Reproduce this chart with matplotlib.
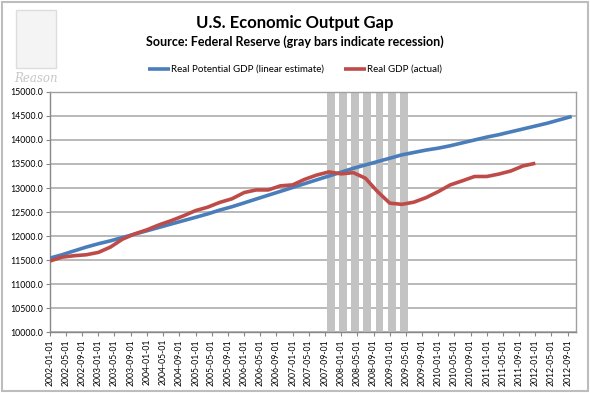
import pandas as pd
import matplotlib
matplotlib.use("Agg")
import matplotlib.pyplot as plt
from matplotlib.patches import Rectangle

plt.rcParams['font.family'] = ['Lato', 'DejaVu Sans']

# quarterly data, billions of chained dollars
potential_dates = pd.date_range("2002-01-01", "2012-10-01", freq="QS")
potential_gdp = [11540, 11610, 11690, 11770,
                 11840, 11900, 11970, 12040,
                 12110, 12180, 12250, 12320,
                 12390, 12460, 12540, 12610,
                 12690, 12770, 12850, 12930,
                 13010, 13090, 13170, 13250,
                 13330, 13410, 13480, 13550,
                 13620, 13690, 13740, 13790,
                 13830, 13880, 13940, 14000,
                 14060, 14110, 14170, 14230,
                 14290, 14350, 14420, 14490]

actual_dates = pd.date_range("2002-01-01", "2012-01-01", freq="QS")
actual_gdp = [11480, 11560, 11590, 11610,
              11660, 11770, 11935, 12045,
              12130, 12233, 12320, 12420,
              12530, 12600, 12700, 12775,
              12905, 12960, 12960, 13045,
              13065, 13180, 13270, 13335,
              13295, 13320, 13205, 12925,
              12685, 12660, 12705, 12800,
              12925, 13065, 13150, 13240,
              13240, 13290, 13355, 13460,
              13515]

recession_dates = pd.date_range("2007-10-01", "2009-04-01", freq="QS")
recession_level = [15000] * len(recession_dates)

tick_dates = pd.date_range("2002-01-01", "2012-09-01", freq="4MS")
tick_labels = [d.strftime("%Y-%m-%d") for d in tick_dates]

fig = plt.figure(figsize=(5.9, 3.93), dpi=100)
ax = fig.add_axes([0.0847, 0.155, 0.8913, 0.611])

ax.bar(recession_dates + pd.Timedelta(days=15), recession_level, width=58,
       color="#c3c3c3", zorder=1)
ax.plot(potential_dates, potential_gdp, color="#4a7ebb", lw=2.6,
        label="Real Potential GDP (linear estimate)", zorder=3, solid_capstyle="butt")
ax.plot(actual_dates, actual_gdp, color="#be4b48", lw=2.6,
        label="Real GDP (actual)", zorder=3, solid_capstyle="butt")

ax.set_xlim(pd.Timestamp("2002-01-01"), pd.Timestamp("2012-11-01"))
ax.set_ylim(10000, 15000)
ax.set_yticks(range(10000, 15001, 500))
ax.set_yticklabels([f"{v:.1f}" for v in range(10000, 15001, 500)], fontsize=6.3)
ax.set_xticks(tick_dates)
ax.set_xticklabels(tick_labels, rotation=90, fontsize=6.2)
ax.tick_params(axis="both", length=3, color="#888888", pad=2)
ax.yaxis.grid(True, color="#b3b3b3", lw=1.3, zorder=0)
ax.set_axisbelow(True)
for s in ax.spines.values():
    s.set_color("#a0a0a0")
    s.set_linewidth(1.0)
ax.spines["left"].set_color("#888888")
ax.spines["bottom"].set_color("#888888")

fig.text(0.5, 0.942, "U.S. Economic Output Gap", ha="center", va="center",
         fontsize=12, fontweight="bold")
fig.text(0.5, 0.893, "Source: Federal Reserve (gray bars indicate recession)",
         ha="center", va="center", fontsize=9, fontweight="bold")

fig.legend(loc="center", bbox_to_anchor=(0.5, 0.823), ncol=2, frameon=False,
           fontsize=7, handlelength=2.3, handletextpad=0.1, columnspacing=2.0)

# logo placeholder
fig.patches.append(Rectangle((16 / 590, 1 - 68 / 393), 40 / 590, 58 / 393,
                             transform=fig.transFigure, fill=True,
                             facecolor="#f4f4f4", edgecolor="#dddddd", lw=1))
fig.text(36 / 590, 1 - 78 / 393, "Reason", ha="center", va="center",
         fontsize=8.5, style="italic", family="DejaVu Serif", color="#c8c8c8")

# chart border
fig.patches.append(Rectangle((0.003, 0.004), 0.994, 0.992, transform=fig.transFigure,
                             fill=False, edgecolor="#bdbdbd", lw=1.5))

fig.savefig("out.png", dpi=100)
